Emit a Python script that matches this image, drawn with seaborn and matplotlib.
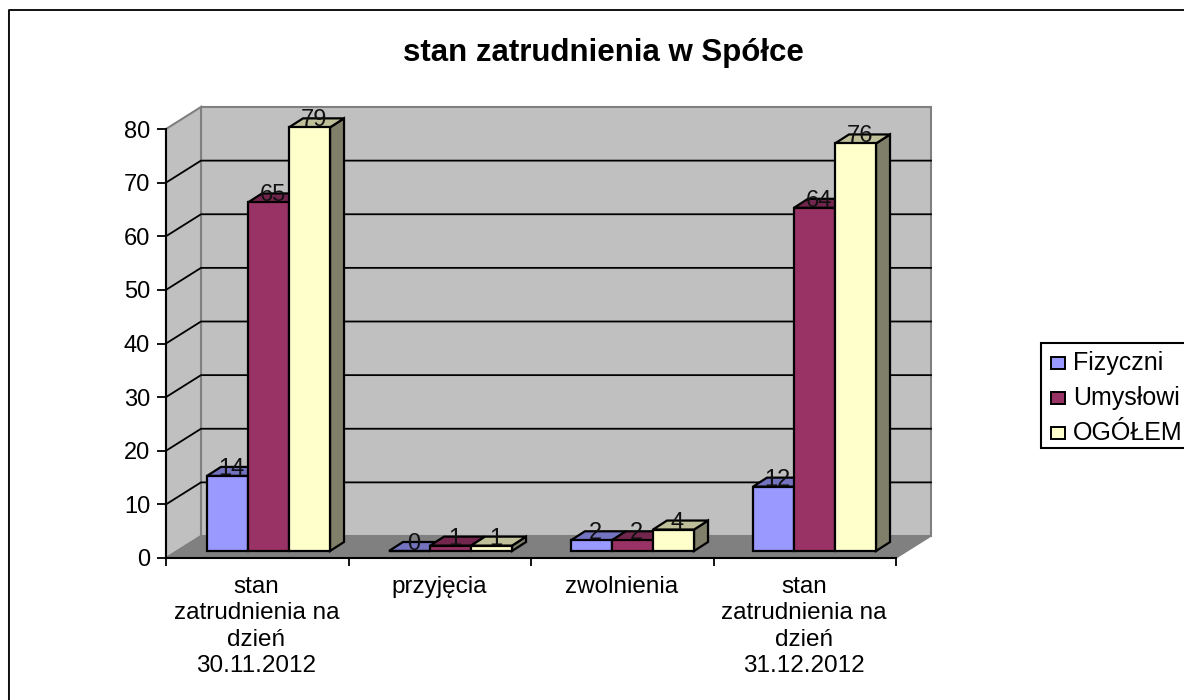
import numpy as np
import pandas as pd
import matplotlib
matplotlib.use('Agg')
import matplotlib.pyplot as plt
from matplotlib.patches import Polygon, Rectangle
import seaborn as sns

categories = ['stan\nzatrudnienia na\ndzień\n30.11.2012', 'przyjęcia', 'zwolnienia',
              'stan\nzatrudnienia na\ndzień\n31.12.2012']
fizyczni = [14, 0, 2, 12]
umyslowi = [65, 1, 2, 64]
ogolem = [79, 1, 4, 76]
series_names = ['Fizyczni', 'Umysłowi', 'OGÓŁEM']
colors = ['#9999ff', '#993366', '#ffffcc']
top_colors = ['#7373bf', '#73264d', '#bfbf99']
side_colors = ['#606099', '#5c1f3d', '#80806a']
y_ticks = list(range(0, 90, 10))

W, H = 1184, 700
DEPTH_X, DEPTH_Y = 35, 22       # depth of the box, px
BAR_DX, BAR_DY = 14, 9          # depth of a bar, px
LEFT, RIGHT, Y0, Y80 = 166, 896, 558, 129
TEXT_SIZE = 17

plt.rcParams['font.family'] = ['Liberation Sans', 'DejaVu Sans']
df = pd.DataFrame({'cat': categories * 3,
                   'series': np.repeat(series_names, 4),
                   'value': fizyczni + umyslowi + ogolem})

fig = plt.figure(figsize=(W / 100, H / 100), dpi=100)


def pixel_axes(zorder):
    a = fig.add_axes([0, 0, 1, 1], zorder=zorder)
    a.set_xlim(0, W)
    a.set_ylim(H, 0)
    a.axis('off')
    return a


# whole figure overlay in pixels, for the frame and the box walls
bg = pixel_axes(0)
bg.plot([7.5, 7.5], [H, 10], color='#b0b0b0', lw=0.8)
bg.plot([9, 9, W], [H, 10, 10], color='black', lw=1.3)
wall = [(LEFT + DEPTH_X, Y80 - DEPTH_Y), (RIGHT + DEPTH_X, Y80 - DEPTH_Y),
        (RIGHT + DEPTH_X, Y0 - DEPTH_Y), (LEFT + DEPTH_X, Y0 - DEPTH_Y)]
side = [(LEFT, Y80), (LEFT + DEPTH_X, Y80 - DEPTH_Y),
        (LEFT + DEPTH_X, Y0 - DEPTH_Y), (LEFT, Y0)]
floor = [(LEFT, Y0), (LEFT + DEPTH_X, Y0 - DEPTH_Y),
         (RIGHT + DEPTH_X, Y0 - DEPTH_Y), (RIGHT, Y0)]
bg.add_patch(Polygon(wall, fc='#c0c0c0', ec='#808080', lw=1.5))
bg.add_patch(Polygon(side, fc='#c0c0c0', ec='#808080', lw=1.5))
bg.add_patch(Polygon(floor, fc='#808080', ec='#808080', lw=1))
unit = (Y0 - Y80) / 80
for v in y_ticks[1:-1]:
    y = Y0 - v * unit
    bg.plot([LEFT, LEFT + DEPTH_X, RIGHT + DEPTH_X], [y, y - DEPTH_Y, y - DEPTH_Y],
            color='black', lw=1.3, zorder=2)
bg.text(603, 53, 'stan zatrudnienia w Spółce', ha='center', va='center',
        fontsize=22.5, fontweight='bold')

# axes in the front plane, carries the ticks and labels
ax = fig.add_axes([LEFT / W, 1 - Y0 / H, (RIGHT - LEFT) / W, (Y0 - Y80) / H], zorder=1)
ax.patch.set_alpha(0)
ax.set_xlim(-0.5, 3.5)
ax.set_ylim(0, 80)
ax.set_yticks(y_ticks)
ax.set_xticks(np.arange(-0.5, 4, 1))
ax.set_xticklabels([])
ax.tick_params(axis='x', length=5.5, width=1.3)
ax.tick_params(axis='y', length=6.5, width=1.3, labelsize=TEXT_SIZE, pad=5)
for s in ['top', 'right']:
    ax.spines[s].set_visible(False)
for s in ['left', 'bottom']:
    ax.spines[s].set_linewidth(1.5)
for i, c in enumerate(categories):
    ax.annotate(c, (i, 0), xytext=(-1, -18), xycoords='data', textcoords='offset pixels',
                ha='center', va='top', fontsize=17.5, linespacing=1.25)

# bars live in a copy of the axes moved back into the box
bx = fig.add_axes([(LEFT + 11.5) / W, 1 - (Y0 - 7) / H, 728 / W, (Y0 - Y80) / H], zorder=2)
sns.barplot(data=df, x='cat', y='value', hue='series', order=categories, hue_order=series_names,
            palette=colors, width=0.676, saturation=1, edgecolor='black', linewidth=1.6,
            legend=False, ax=bx, dodge=True, gap=0)
bx.set_xlim(-0.5, 3.5)
bx.set_ylim(0, 80)
bx.axis('off')
for patch in bx.patches:
    patch.set_clip_on(False)

# legend and value labels sit over everything
lg = pixel_axes(3)

to_px = bx.transData
to_fig = bg.transData.inverted()
all_values = [fizyczni, umyslowi, ogolem]
containers = list(bx.containers)
for s, container in enumerate(containers):
    for k, rect in enumerate(container.patches):
        x0, x1 = rect.get_x(), rect.get_x() + rect.get_width()
        val = all_values[s][k]
        p0 = to_fig.transform(to_px.transform((x0, val)))
        p1 = to_fig.transform(to_px.transform((x1, val)))
        b1 = to_fig.transform(to_px.transform((x1, 0)))
        top = [p0, p1, p1 + (BAR_DX, -BAR_DY), p0 + (BAR_DX, -BAR_DY)]
        sd = [p1, p1 + (BAR_DX, -BAR_DY), b1 + (BAR_DX, -BAR_DY), b1]
        # side only shows on the last series, the next bar covers the rest
        if s == len(containers) - 1:
            bg.add_patch(Polygon(sd, fc=side_colors[s], ec='black', lw=1.6, zorder=3))
        bg.add_patch(Polygon(top, fc=top_colors[s], ec='black', lw=1.6, zorder=3))
        lg.text((p0[0] + p1[0]) / 2 + 4, p0[1] - 1, str(val), ha='center', va='baseline',
                fontsize=TEXT_SIZE, color='#111111')

lg.add_patch(Rectangle((1041, 343), 150, 105, fc='white', ec='black', lw=1.5))
for name, col, y in zip(series_names, colors, [363, 398, 433]):
    lg.add_patch(Rectangle((1051, y - 6), 14, 12, fc=col, ec='black', lw=1.4))
    lg.text(1073, y, name, va='center', ha='left', fontsize=18)

fig.savefig('out.png', dpi=100)
